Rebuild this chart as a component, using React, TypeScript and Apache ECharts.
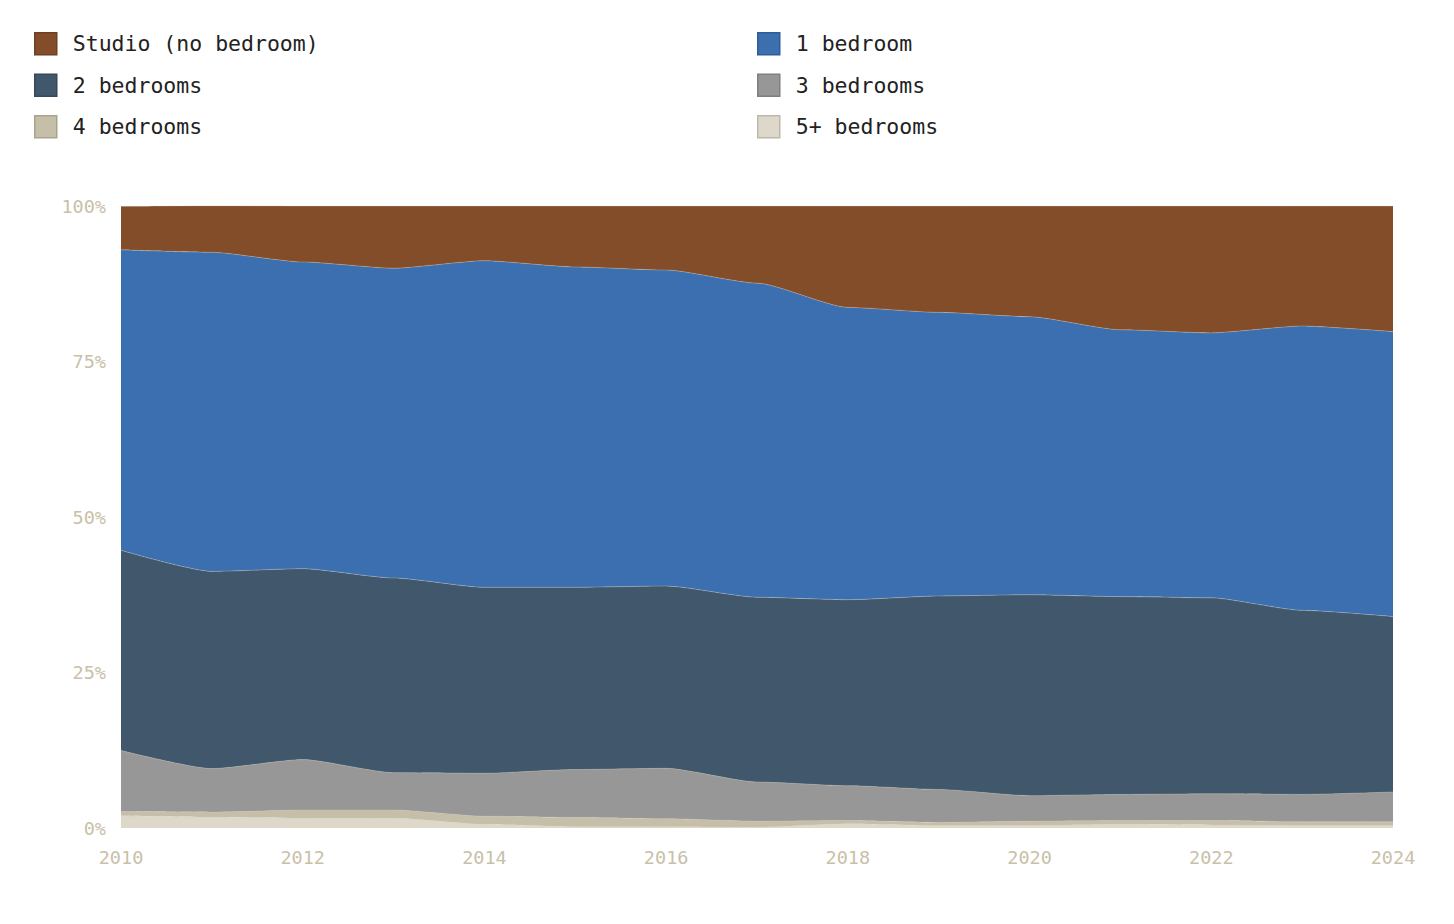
import React, { useEffect, useRef } from "react";
import * as echarts from "echarts";

const years = ["2010","2011","2012","2013","2014","2015","2016","2017","2018","2019","2020","2021","2022","2023","2024"];
const studio = [7.0, 7.5, 9.0, 10.0, 8.8, 9.8, 10.3, 12.4, 16.3, 17.1, 17.8, 19.9, 20.4, 19.3, 20.2];
const oneBed = [48.3, 51.3, 49.3, 49.8, 52.5, 51.5, 50.8, 50.5, 47.0, 45.6, 44.7, 42.9, 42.6, 45.7, 45.8];
const twoBed = [32.2, 31.7, 30.7, 31.3, 29.9, 29.3, 29.3, 29.7, 29.9, 31.1, 32.3, 31.8, 31.5, 29.6, 28.2];
const threeBed = [9.8, 7.0, 8.1, 6.0, 6.9, 7.7, 8.1, 6.3, 5.6, 5.3, 4.1, 4.2, 4.3, 4.4, 4.8];
const fourBed = [0.7, 0.8, 1.3, 1.3, 1.3, 1.5, 1.3, 0.95, 0.5, 0.5, 0.7, 0.6, 0.7, 0.6, 0.6];
const fivePlus = [1.95, 1.75, 1.6, 1.6, 0.6, 0.2, 0.2, 0.15, 0.7, 0.4, 0.4, 0.6, 0.5, 0.4, 0.4];
const yTicks = [0, 25, 50, 75, 100];

const names = {
  studio: "Studio (no bedroom)",
  one: "1 bedroom",
  two: "2 bedrooms",
  three: "3 bedrooms",
  four: "4 bedrooms",
  five: "5+ bedrooms",
};

const colors = {
  studio: "#834D2A",
  one: "#3B6FB0",
  two: "#41586C",
  three: "#979797",
  four: "#C5BFA9",
  five: "#DDD8CA",
};
const borders = {
  studio: "#6E3F22",
  one: "#305D95",
  two: "#36495A",
  three: "#7F7F7F",
  four: "#A9A38E",
  five: "#BDB8AA",
};

const FONT = "'DejaVu Sans Mono', 'Liberation Mono', monospace";

export default function App() {
  const ref = useRef<HTMLDivElement>(null);
  useEffect(() => {
    if (!ref.current) return;
    const chart = echarts.init(ref.current, undefined, { renderer: "svg" });
    const mk = (key: keyof typeof names, data: number[]) => ({
      name: names[key],
      type: "line",
      stack: "total",
      data,
      symbol: "none",
      smooth: 0.2,
      smoothMonotone: "x",
      color: colors[key],
      lineStyle: { width: 0.6, color: "rgba(215,205,185,0.55)" },
      areaStyle: { color: colors[key], opacity: 1 },
      emphasis: { disabled: true },
    });
    const legendItem = (key: keyof typeof names) => ({
      name: names[key],
      itemStyle: { color: colors[key], borderColor: borders[key], borderWidth: 1.5 },
    });
    const legendCommon = {
      orient: "vertical",
      icon: "rect",
      itemWidth: 22,
      itemHeight: 22,
      itemGap: 18,
      top: 32,
      padding: 0,
      selectedMode: false,
      textStyle: { fontFamily: FONT, fontSize: 21.5, color: "#222", padding: [0, 0, 0, 11] },
    };
    chart.setOption({
      animation: false,
      backgroundColor: "#fff",
      legend: [
        { ...legendCommon, left: 34, data: [legendItem("studio"), legendItem("two"), legendItem("four")] },
        { ...legendCommon, left: 757, data: [legendItem("one"), legendItem("three"), legendItem("five")] },
      ],
      grid: { left: 121, right: 61, top: 206, bottom: 96, containLabel: false },
      xAxis: {
        type: "category",
        data: years,
        boundaryGap: false,
        axisLine: { show: false },
        axisTick: { show: false },
        splitLine: { show: false },
        axisLabel: {
          interval: 1,
          margin: 20,
          color: "#C9C0A8",
          fontFamily: FONT,
          fontSize: 18.5,
        },
      },
      yAxis: {
        type: "value",
        min: yTicks[0],
        max: yTicks[yTicks.length - 1],
        interval: 25,
        axisLine: { show: false },
        axisTick: { show: false },
        splitLine: { show: false },
        axisLabel: {
          margin: 15,
          color: "#C9C0A8",
          fontFamily: FONT,
          fontSize: 18.5,
          formatter: "{value}%",
        },
      },
      series: [
        mk("five", fivePlus),
        mk("four", fourBed),
        mk("three", threeBed),
        mk("two", twoBed),
        mk("one", oneBed),
        mk("studio", studio),
      ],
    });
    return () => chart.dispose();
  }, []);
  return (
    <div
      ref={ref}
      style={{ position: "absolute", left: 0, top: 0, width: 1454, height: 924 }}
    />
  );
}
